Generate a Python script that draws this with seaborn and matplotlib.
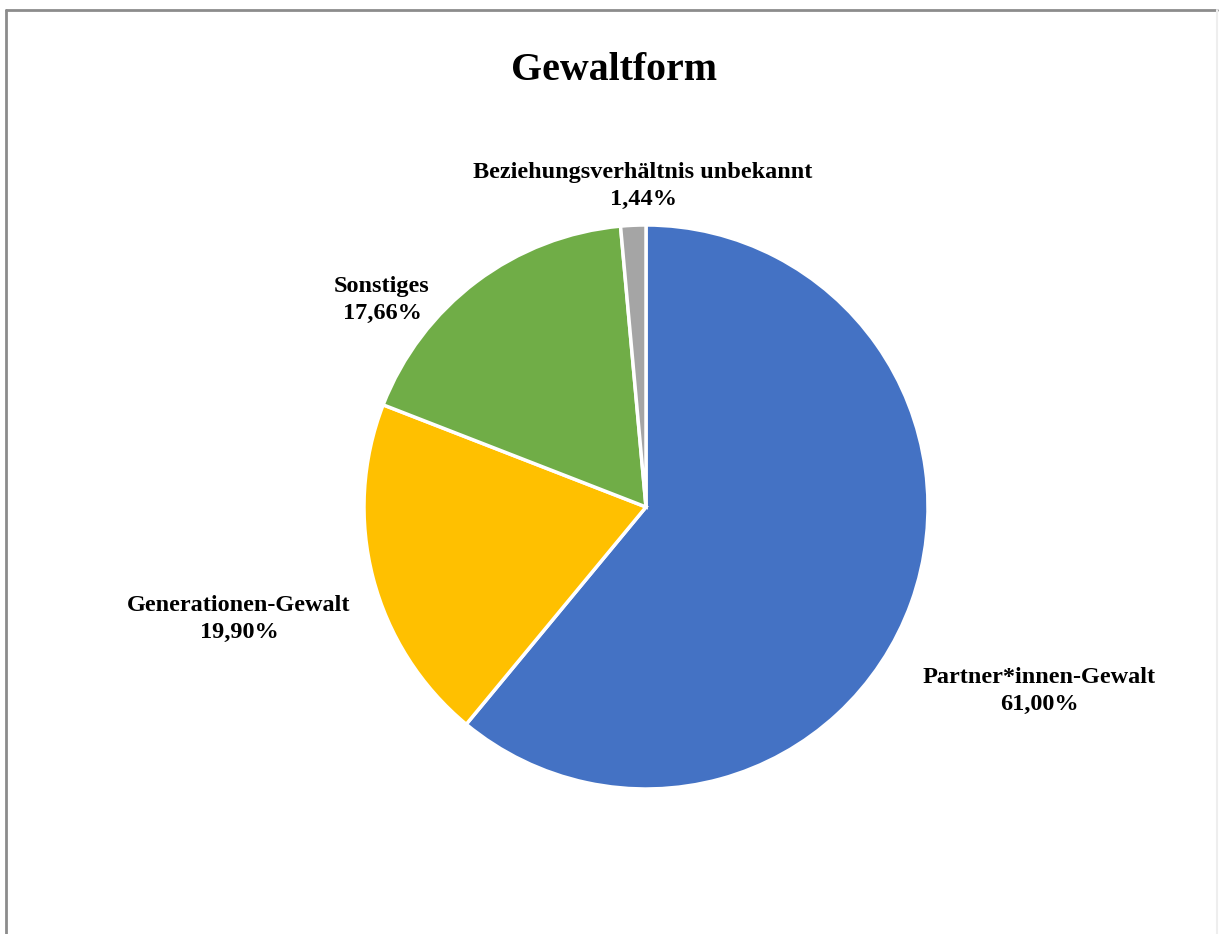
import matplotlib
matplotlib.use("Agg")
import matplotlib.pyplot as plt
import seaborn as sns
from matplotlib.lines import Line2D


# Data
categories = ["Partner*innen-Gewalt", "Generationen-Gewalt", "Sonstiges",
              "Beziehungsverhältnis unbekannt"]
shares = [61.00, 19.90, 17.66, 1.44]
share_labels = ["61,00%", "19,90%", "17,66%", "1,44%"]
colors = ["#4472C4", "#FFC000", "#70AD47", "#A5A5A5"]

sns.set_theme(style="white")
plt.rcParams['font.family'] = ['Liberation Serif', 'DejaVu Serif']
plt.rcParams['text.color'] = 'black'

fig = plt.figure(figsize=(12.2, 9.34), dpi=100)

# pie centre at (646, 507) px, radius 282 px
W, H = 1220, 934
cx, cy, r = 646, 507, 282
span = 1.5
ax = fig.add_axes([(cx - span * r) / W, (H - cy - span * r) / H,
                   2 * span * r / W, 2 * span * r / H])

ax.pie(shares, colors=sns.color_palette(colors), startangle=90,
       counterclock=False,
       wedgeprops=dict(edgecolor="white", linewidth=2.5))
ax.set_xlim(-span, span)
ax.set_ylim(-span, span)
ax.set_aspect("equal")
ax.axis("off")

# label positions in pixels (centre of the two-line label)
label_px = [(1039, 691), (239, 619), (382, 300), (643, 186)]
for name, pct, (px, py) in zip(categories, share_labels, label_px):
    ax.text((px - cx) / r, (cy - py) / r, name + "\n" + pct,
            ha="center", va="center", fontsize=17.5, fontweight="bold",
            linespacing=1.38, color="black", clip_on=False)

fig.text(614 / W, 1 - 70 / H, "Gewaltform", ha="center", va="center",
         fontsize=28.7, fontweight="bold", color="black")

# grey frame around the chart
frame = dict(color="#8c8c8c", linewidth=2)
fig.add_artist(Line2D([6 / W, 6 / W], [0, 1 - 10 / H], **frame))
fig.add_artist(Line2D([6 / W, 1217 / W], [1 - 10 / H, 1 - 10 / H], **frame))
fig.add_artist(Line2D([1217 / W, 1217 / W], [0, 1 - 10 / H],
                      color="#eeeeee", linewidth=1.5))

fig.savefig("out.png", dpi=100, facecolor="white")
